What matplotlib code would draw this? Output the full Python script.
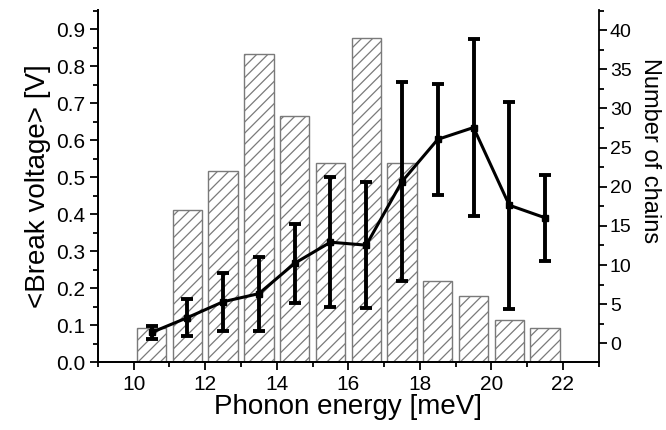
import numpy as np
import matplotlib
matplotlib.use('Agg')
import matplotlib.pyplot as plt
from matplotlib.ticker import MultipleLocator, FormatStrFormatter

plt.rcParams['font.family'] = ['Liberation Sans', 'DejaVu Sans']
plt.rcParams['hatch.linewidth'] = 0.9

# data
energy = [10.5, 11.5, 12.5, 13.5, 14.5, 15.5, 16.5, 17.5, 18.5, 19.5, 20.5, 21.5]
chains = [2, 17, 22, 37, 29, 23, 39, 23, 8, 6, 3, 2]
voltage = [0.080, 0.120, 0.163, 0.185, 0.267, 0.324, 0.316, 0.488, 0.602, 0.634, 0.424, 0.390]
voltage_err = [0.017, 0.050, 0.078, 0.100, 0.106, 0.176, 0.170, 0.270, 0.151, 0.240, 0.280, 0.117]

fig = plt.figure(figsize=(6.66, 4.3), dpi=100)
ax = fig.add_axes([0.147, 0.158, 0.752, 0.819])
ax2 = ax.twinx()

# histogram on the right axis, drawn behind the line
ymin2, ymax2 = -2.4, 42.6
ax2.bar(energy, np.array(chains) - ymin2, bottom=ymin2, width=0.82,
        facecolor='white', edgecolor='#7a7a7a', hatch='///', linewidth=1.0)
ax2.set_ylim(ymin2, ymax2)

ax.set_zorder(ax2.get_zorder() + 1)
ax.patch.set_visible(False)
ax.errorbar(energy, voltage, yerr=voltage_err, color='black', lw=2.2,
            elinewidth=2.8, capsize=4.5, capthick=2.8, marker='s', ms=5)

ax.set_xlim(9, 23)
ax.set_ylim(0, 0.952)
ax.xaxis.set_major_locator(MultipleLocator(2))
ax.xaxis.set_minor_locator(MultipleLocator(1))
ax.yaxis.set_major_locator(MultipleLocator(0.1))
ax.yaxis.set_minor_locator(MultipleLocator(0.05))
ax.yaxis.set_major_formatter(FormatStrFormatter('%.1f'))
ax2.yaxis.set_minor_locator(MultipleLocator(2.5))
ax2.set_yticks([0, 5, 10, 15, 20, 25, 30, 35, 40])

for a in (ax, ax2):
    a.spines['top'].set_visible(False)
    for s in a.spines.values():
        s.set_linewidth(1.3)
ax.spines['right'].set_visible(False)
ax.tick_params(axis='both', which='major', length=6, width=1.3, labelsize=15, pad=3)
ax.tick_params(axis='both', which='minor', length=3.5, width=1.3)
ax2.tick_params(axis='y', which='major', length=6, width=1.3, labelsize=14, pad=2)
ax2.tick_params(axis='y', which='minor', length=3.5, width=1.3)

ax.set_xlabel('Phonon energy [meV]', fontsize=20, labelpad=0)
ax.set_ylabel('<Break voltage> [V]', fontsize=20, labelpad=4)
ax2.set_ylabel('Number of chains', fontsize=17, rotation=270)
ax2.yaxis.set_label_coords(1.125, 0.6)

fig.savefig('out.png', dpi=100)
